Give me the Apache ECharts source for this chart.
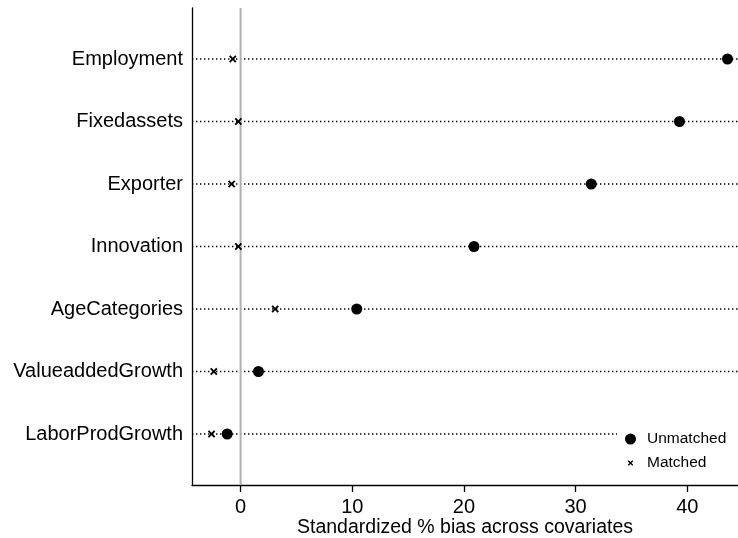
<!DOCTYPE html>
<html>
<head>
<meta charset="utf-8">
<title>Standardized % bias across covariates</title>
<script src="https://cdn.jsdelivr.net/npm/echarts@6/dist/echarts.min.js"></script>
<style>
  html, body { margin: 0; padding: 0; background: #fff; }
  #chart { width: 738px; height: 538px; }
</style>
</head>
<body>
<div id="chart"></div>
<script>
// Covariates, listed top to bottom
const covariates = [
  'Employment', 'Fixedassets', 'Exporter', 'Innovation',
  'AgeCategories', 'ValueaddedGrowth', 'LaborProdGrowth'
];
// Standardized % bias before matching
const unmatched = [43.6, 39.3, 31.4, 20.9, 10.4, 1.6, -1.2];
// Standardized % bias after matching
const matched = [-0.7, -0.2, -0.8, -0.2, 3.1, -2.4, -2.6];
// x-axis tick values
const xTicks = [0, 10, 20, 30, 40];

const n = covariates.length;
// row position of each covariate (top row gets the largest value)
const rowOf = i => n - i;
const rows = covariates.map((_, i) => rowOf(i));

const xMin = -4.35, xMax = 44.54;
const yMin = 0.184, yMax = 7.816;

// small "x" marker, padded inside a 20x20 box so its drawn size stays compact
const crossPath = 'path://M0,0M20,20' +
  'M5,6.8L6.8,5L10,8.2L13.2,5L15,6.8L11.8,10L15,13.2L13.2,15L10,11.8L6.8,15L5,13.2L8.2,10Z';

const font = 'Arial, "Liberation Sans", Helvetica, sans-serif';

const chart = echarts.init(document.getElementById('chart'), null, { renderer: 'canvas' });

chart.setOption({
  animation: false,
  backgroundColor: '#fff',
  textStyle: { fontFamily: font },
  grid: {
    left: 192, right: 0, top: 8, bottom: 53,
    containLabel: false,
    outerBoundsMode: 'none'
  },
  xAxis: {
    type: 'value',
    min: xMin,
    max: xMax,
    name: 'Standardized % bias across covariates',
    nameLocation: 'middle',
    nameGap: 33,
    nameMoveOverlap: false,
    nameTextStyle: { fontSize: 19.5, color: '#000', fontFamily: font },
    axisLine: { show: true, onZero: false, lineStyle: { color: '#000', width: 1.3 } },
    axisTick: { show: true, length: 7, customValues: xTicks, lineStyle: { color: '#000', width: 1.3 } },
    axisLabel: { customValues: xTicks, margin: 12, fontSize: 20, color: '#000', fontFamily: font },
    splitLine: { show: false }
  },
  yAxis: {
    type: 'value',
    min: yMin,
    max: yMax,
    axisLine: { show: true, onZero: false, lineStyle: { color: '#000', width: 1.3 } },
    axisTick: { show: false },
    axisLabel: {
      customValues: rows,
      margin: 9,
      fontSize: 20,
      color: '#000',
      fontFamily: font,
      formatter: v => covariates[n - Math.round(v)]
    },
    splitLine: { show: false }
  },
  legend: {
    orient: 'vertical',
    left: 617,
    top: 424,
    z: 50,
    padding: [7, 40, 7, 8],
    backgroundColor: '#fff',
    itemWidth: 11,
    itemHeight: 11,
    itemGap: 8,
    textStyle: { fontSize: 15.5, color: '#000', fontFamily: font, padding: [0, 0, 0, 6] },
    data: [
      { name: 'Unmatched', icon: 'circle' },
      { name: 'Matched', icon: crossPath }
    ],
    selectedMode: false
  },
  series: [
    // dotted guide line across each covariate row
    ...rows.map(r => ({
      name: 'row' + r,
      type: 'line',
      silent: true,
      symbol: 'none',
      z: 1,
      lineStyle: { color: '#000', width: 1.4, type: [1.4, 2.6] },
      data: [[xMin, r], [xMax, r]]
    })),
    {
      // reference line at zero bias
      name: 'zero',
      type: 'line',
      silent: true,
      symbol: 'none',
      z: 1,
      lineStyle: { color: '#b0b0b0', width: 2, type: 'solid' },
      data: [[0, yMin], [0, yMax]]
    },
    {
      name: 'Unmatched',
      type: 'scatter',
      symbol: 'circle',
      symbolSize: 11,
      itemStyle: { color: '#000', opacity: 1 },
      z: 5,
      data: unmatched.map((v, i) => [v, rowOf(i)])
    },
    {
      name: 'Matched',
      type: 'scatter',
      symbol: crossPath,
      symbolSize: 15,
      itemStyle: { color: '#000', opacity: 1 },
      z: 5,
      data: matched.map((v, i) => [v, rowOf(i)])
    }
  ]
});
</script>
</body>
</html>
